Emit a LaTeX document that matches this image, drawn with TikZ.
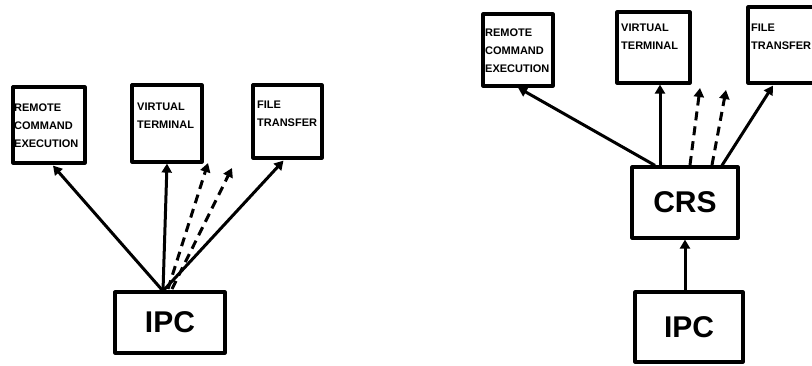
\documentclass[tikz,border=0pt]{standalone}
\usepackage{fontspec}
\setmainfont{Liberation Sans}
\usetikzlibrary{arrows.meta,calc}
\begin{document}
\begin{tikzpicture}[x=1pt,y=-1pt,
  box/.style={draw, line width=3.2pt, inner sep=0pt, line join=round},
  lbl/.style={font=\fontsize{11}{18}\selectfont\bfseries, align=left, inner sep=0pt, anchor=north west},
  big/.style={font=\fontsize{30}{34}\selectfont\bfseries},
  conn/.style={line width=3pt, -{Triangle[length=9pt,width=10pt]}},
  dconn/.style={conn, dash pattern=on 9pt off 6pt},
]
\useasboundingbox (0,0) rectangle (812,365);
\clip (0,0) rectangle (812,365);

% ---------- left diagram ----------
\node[box, minimum width=72pt, minimum height=76pt] (lrce) at (49,125) {};
\node[box, minimum width=70pt, minimum height=77pt] (lvt) at (167,123.5) {};
\node[box, minimum width=69pt, minimum height=73pt] (lft) at (287.5,121.5) {};
\node[box, minimum width=110pt, minimum height=61pt, big] (lipc) at (170,322.5) {IPC};

\node[lbl] (lrcet) at (14,104) {REMOTE\\COMMAND\\EXECUTION};
\node[lbl] (lvtt) at (137,103) {VIRTUAL\\TERMINAL};
\node[lbl] (lftt) at (257,101) {FILE\\TRANSFER};

\coordinate (lsrc) at (163,291);
\coordinate (ld1s) at (168,289);
\coordinate (ld2s) at (172,289);
\coordinate (ld1e) at (208,163);
\coordinate (ld2e) at (232,168);

\draw[conn] (lsrc) -- ($(lrce.south)+(4,1)$);
\draw[conn] (lsrc) -- (lvt.south);
\draw[conn] (lsrc) -- ($(lft.south)+(-4,1)$);
\draw[dconn] (ld1s) -- (ld1e);
\draw[dconn] (ld2s) -- (ld2e);

% ---------- right diagram ----------
\node[box, minimum width=70pt, minimum height=72pt] (rrce) at (518,50) {};
\node[box, minimum width=73pt, minimum height=71pt] (rvt) at (653.5,47.5) {};
\node[box, minimum width=90pt, minimum height=76pt] (rft) at (793,45) {};
\node[box, minimum width=106pt, minimum height=71pt, big] (rcrs) at (685,202.5) {CRS};
\node[box, minimum width=108pt, minimum height=70pt, big] (ripc) at (689,327) {IPC};

\node[lbl] (rrcet) at (485,29) {REMOTE\\COMMAND\\EXECUTION};
\node[lbl] (rvtt) at (621,24) {VIRTUAL\\TERMINAL};
\node[lbl] (rftt) at (751,24) {FILE\\TRANSFER};

\draw[conn] (rcrs.south |- ripc.north) -- (rcrs.south);
\draw[conn] ($(rcrs.north)+(-30,0)$) -- (rrce.south);
\draw[conn] ($(rcrs.north)+(-25,0)$) -- ($(rvt.south)+(6.5,0)$);
\draw[conn] ($(rcrs.north)+(37,0)$) -- ($(rft.south)+(-20,1)$);
\coordinate (rd1s) at (690,165);
\coordinate (rd2s) at (712,165);
\coordinate (rd1e) at (700,88);
\coordinate (rd2e) at (726,90);
\draw[dconn] (rd1s) -- (rd1e);
\draw[dconn] (rd2s) -- (rd2e);
\end{tikzpicture}
\end{document}
